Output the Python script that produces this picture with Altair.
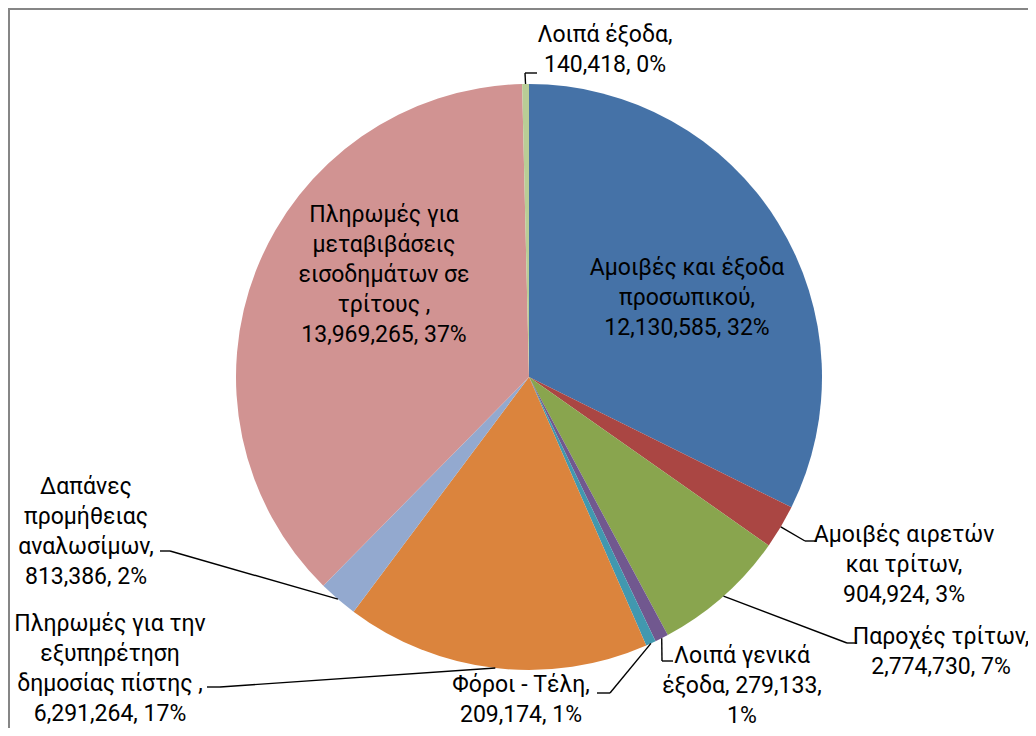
import math
import altair as alt
import pandas as pd

# ---------------- data ----------------
categories = [
    "Αμοιβές και έξοδα προσωπικού",
    "Αμοιβές αιρετών και τρίτων",
    "Παροχές τρίτων",
    "Λοιπά γενικά έξοδα",
    "Φόροι - Τέλη",
    "Πληρωμές για την εξυπηρέτηση δημοσίας πίστης ",
    "Δαπάνες προμήθειας αναλωσίμων",
    "Πληρωμές για μεταβιβάσεις εισοδημάτων σε τρίτους ",
    "Λοιπά έξοδα",
]
values = [12130585, 904924, 2774730, 279133, 209174, 6291264, 813386, 13969265, 140418]
pct_labels = ["32%", "3%", "7%", "1%", "1%", "17%", "2%", "37%", "0%"]
colors = ["#4572A7", "#AA4643", "#89A54E", "#71588F", "#4198AF",
          "#DB843D", "#93A9CF", "#D19392", "#B9CD96"]

# ---------------- layout ----------------
W, H = 1020, 720
CX, CY, R = 521, 369, 293
FONT = "Roboto"
FS = 23
LH = 30
wrap_chars = [17, 15, 15, 15, 13, 17, 11, 15, 12]
# label block centre, offset from the pie centre
label_off = [(158, -79), (375, 188), (412, 275), (213, 309), (-8, 323),
             (-419, 292), (-443, 155), (-145, -102), (76, -327)]
# leader elbow and end, offset from the pie centre (None = label inside slice)
leader_elbow = [None, (276, 164), (318, 266), (133, 284), (81, 316),
                (-309, 310), (-359, 174), None, (-4, -304)]
leader_end = [None, (288, 164), (328, 266), (144, 284), (68, 316),
              (-322, 310), (-369, 174), None, (8, -304)]


def wrap(text, width):
    lines, cur = [], ""
    for tok in text.split(" "):
        cand = tok if not cur else cur + " " + tok
        if len(cand) <= width or not cur:
            cur = cand
        else:
            lines.append(cur)
            cur = tok
    if cur:
        lines.append(cur)
    return lines


n = len(values)
df = pd.DataFrame({"idx": list(range(n)), "cat": categories, "value": values})

labels = []
for i in range(n):
    full = f"{categories[i]}, {values[i]:,}, {pct_labels[i]}"
    lines = wrap(full, wrap_chars[i])
    labels.append({
        "label": "\n".join(lines),
        "lx": CX + label_off[i][0],
        # first line position so that the whole block is centred
        "ly": CY + label_off[i][1] - (len(lines) - 1) * LH / 2.0,
    })
lab_df = pd.DataFrame(labels)

total = float(sum(values))
segs = []
cum = 0.0
for i in range(n):
    mid = (cum + values[i] / 2.0) / total * 2 * math.pi
    cum += values[i]
    if leader_elbow[i] is None:
        continue
    sx = CX + R * math.sin(mid)
    sy = CY - R * math.cos(mid)
    ex, ey = CX + leader_elbow[i][0], CY + leader_elbow[i][1]
    tx, ty = CX + leader_end[i][0], CY + leader_end[i][1]
    segs.append({"x": sx, "y": sy, "x2": ex, "y2": ey})
    segs.append({"x": ex, "y": ey, "x2": tx, "y2": ty})
seg_df = pd.DataFrame(segs)

pie = alt.Chart(df).mark_arc(outerRadius=R).encode(
    theta=alt.Theta("value:Q", stack=True),
    color=alt.Color("cat:N", scale=alt.Scale(domain=categories, range=colors), legend=None),
    order=alt.Order("idx:Q"),
    x=alt.value(CX),
    y=alt.value(CY),
)

leaders = alt.Chart(seg_df).mark_rule(color="black", strokeWidth=1.4).encode(
    x=alt.X("x:Q", scale=None, axis=None),
    y=alt.Y("y:Q", scale=None, axis=None),
    x2="x2:Q",
    y2="y2:Q",
)

texts = alt.Chart(lab_df).mark_text(
    font=FONT, fontSize=FS, lineHeight=LH, lineBreak="\n",
    align="center", baseline="middle", color="black",
).encode(
    x=alt.X("lx:Q", scale=None, axis=None),
    y=alt.Y("ly:Q", scale=None, axis=None),
    text="label:N",
)

border_top = alt.Chart(df).mark_rule(color="#868686", strokeWidth=2).encode(
    x=alt.value(0), x2=alt.value(W), y=alt.value(1)
)
border_left = alt.Chart(df).mark_rule(color="#868686", strokeWidth=2).encode(
    x=alt.value(1), y=alt.value(0), y2=alt.value(H)
)

chart = alt.layer(pie, leaders, texts, border_top, border_left).properties(
    width=W, height=H, padding=0, autosize=alt.AutoSizeParams(type="none"),
    background="white",
).configure_view(strokeWidth=0)

chart.save("out.html", embed_options={"renderer": "svg", "actions": False})
